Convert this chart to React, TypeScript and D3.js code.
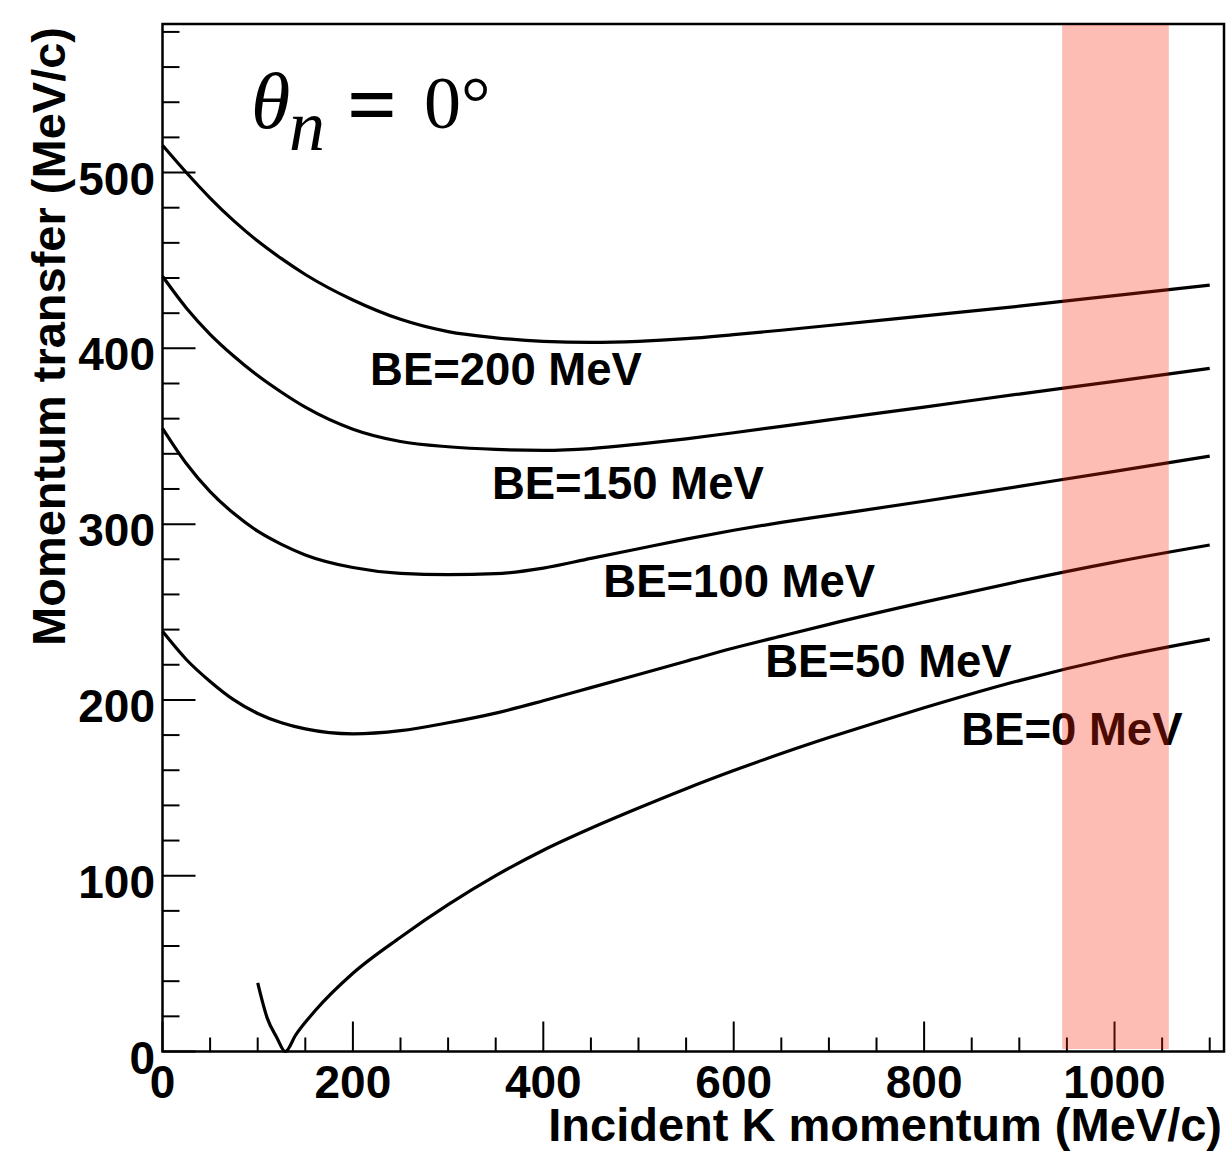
import React from "react";
import * as d3 from "d3";

// ---- data ----
const gridX = [0, 25, 50, 75, 100, 125, 150, 200, 250, 300, 350, 400, 450, 500, 550, 600, 650, 700, 800, 900, 1000, 1100];
const q200 = [515.5, 500, 485.5, 472.5, 461, 451, 442, 427.5, 416.5, 409.5, 406, 404, 403.4, 404, 405.5, 407.8, 410.3, 413, 418.5, 424, 430, 436];
const q150 = [441, 423, 408, 395.5, 384.5, 375, 366.5, 354, 347, 344, 342.5, 342, 343, 345.5, 348.5, 352, 355.6, 359.3, 366.6, 374, 381.2, 388.6];
const q100 = [354.5, 334.5, 318.5, 306, 296, 288.5, 282.5, 275.3, 272, 271.3, 271.8, 275, 280.5, 286, 291.5, 296.5, 301, 305, 313, 321.5, 330, 338.7];
const q50 = [239, 223, 210.5, 200, 192.3, 187, 183.5, 180.7, 182.5, 187, 192.5, 199.5, 207, 214.5, 222, 229.5, 236.3, 243, 255.6, 267.5, 278.4, 288.1];
const x0 = [100, 110, 120, 129, 140, 160, 200, 250, 300, 350, 400, 450, 500, 550, 600, 650, 700, 750, 800, 900, 1000, 1100];
const q0 = [39, 19, 8, 0, 9.5, 23, 44.5, 65, 83.5, 100, 114.5, 127, 138.5, 149.5, 159.8, 169.5, 178.6, 187.2, 195.5, 211, 224, 234.6];

const curveLabels = ["BE=200 MeV", "BE=150 MeV", "BE=100 MeV", "BE=50 MeV", "BE=0 MeV"];
// label anchor points in data coordinates (left, baseline)
const labelX = [218, 346, 463, 633, 839];
const labelY = [379, 314.5, 258.5, 213, 174.5];

const xTicksMajor = [0, 200, 400, 600, 800, 1000];
const yTicksMajor = [0, 100, 200, 300, 400, 500];
const xDomain = [0, 1115];
const yDomain = [0, 584.5];
const band = [945, 1057];

const xTitle = "Incident K momentum (MeV/c)";
const yTitle = "Momentum transfer (MeV/c)";

const FONT = "'Liberation Sans', Arial, Helvetica, sans-serif";
const SERIF = "'Liberation Serif', 'Times New Roman', serif";

export default function App() {
  const W = 1230;
  const H = 1152;
  const x = d3.scaleLinear().domain(xDomain).range([162.5, 1224]);
  const y = d3.scaleLinear().domain(yDomain).range([1051.5, 24]);

  const line = d3
    .line<[number, number]>()
    .x((d) => x(d[0]))
    .y((d) => y(d[1]))
    .curve(d3.curveMonotoneX);

  const series: [number, number][][] = [
    gridX.map((v, i) => [v, q200[i]] as [number, number]),
    gridX.map((v, i) => [v, q150[i]] as [number, number]),
    gridX.map((v, i) => [v, q100[i]] as [number, number]),
    gridX.map((v, i) => [v, q50[i]] as [number, number]),
    x0.map((v, i) => [v, q0[i]] as [number, number]),
  ];

  const xMinor = d3.range(0, 1101, 50).filter((v) => v % 200 !== 0);
  const yMinor = d3.range(0, 581, 20).filter((v) => v % 100 !== 0);

  const x0px = x(0);
  const y0px = y(0);

  return (
    <svg
      width={W}
      height={H}
      style={{ position: "absolute", left: 0, top: 0, display: "block", background: "#fff" }}
    >
      <rect x={0} y={0} width={W} height={H} fill="#fff" />
      {/* curves */}
      {series.map((s, i) => (
        <path key={i} d={line(s) || ""} fill="none" stroke="#000" strokeWidth={3.2} strokeLinejoin="round" />
      ))}
      {/* curve labels */}
      {curveLabels.map((t, i) => (
        <text
          key={t}
          x={x(labelX[i])}
          y={y(labelY[i])}
          fontFamily={FONT}
          fontWeight="bold"
          fontSize={45.5}
          fill="#000"
        >
          {t}
        </text>
      ))}
      {/* ticks */}
      {xTicksMajor.map((v) => (
        <line key={"xM" + v} x1={x(v)} x2={x(v)} y1={y0px} y2={y0px - 30} stroke="#000" strokeWidth={2} />
      ))}
      {xMinor.map((v) => (
        <line key={"xm" + v} x1={x(v)} x2={x(v)} y1={y0px} y2={y0px - 14} stroke="#000" strokeWidth={2} />
      ))}
      {yTicksMajor.map((v) => (
        <line key={"yM" + v} x1={x0px} x2={x0px + 33} y1={y(v)} y2={y(v)} stroke="#000" strokeWidth={2} />
      ))}
      {yMinor.map((v) => (
        <line key={"ym" + v} x1={x0px} x2={x0px + 17} y1={y(v)} y2={y(v)} stroke="#000" strokeWidth={2} />
      ))}
      {/* frame */}
      <rect
        x={x0px}
        y={y(yDomain[1])}
        width={x(xDomain[1]) - x0px}
        height={y0px - y(yDomain[1])}
        fill="none"
        stroke="#000"
        strokeWidth={2.5}
      />
      {/* tick labels */}
      {xTicksMajor.map((v) => (
        <text
          key={"xl" + v}
          x={x(v)}
          y={1098}
          textAnchor="middle"
          fontFamily={FONT}
          fontWeight="bold"
          fontSize={46}
        >
          {v}
        </text>
      ))}
      {yTicksMajor.map((v) => (
        <text
          key={"yl" + v}
          x={155}
          y={y(v) + 22}
          textAnchor="end"
          fontFamily={FONT}
          fontWeight="bold"
          fontSize={46}
        >
          {v}
        </text>
      ))}
      {/* axis titles */}
      <text x={1222} y={1141} textAnchor="end" fontFamily={FONT} fontWeight="bold" fontSize={47}>
        {xTitle}
      </text>
      <text
        transform="translate(65,27) rotate(-90)"
        textAnchor="end"
        fontFamily={FONT}
        fontWeight="bold"
        fontSize={47}
      >
        {yTitle}
      </text>
      {/* theta annotation */}
      <text x={251} y={128} fontFamily={SERIF} fontStyle="italic" fontSize={80}>
        θ
      </text>
      <text x={289} y={150} fontFamily={SERIF} fontStyle="italic" fontSize={72}>
        n
      </text>
      <text x={347} y={135} fontFamily={SERIF} fontSize={88} fontWeight="bold">
        =
      </text>
      <text x={424} y={128} fontFamily={SERIF} fontSize={74}>
        0°
      </text>
      {/* shaded band, drawn on top with transparency */}
      <rect
        x={x(band[0])}
        y={y(yDomain[1]) + 1}
        width={x(band[1]) - x(band[0])}
        height={y0px - y(yDomain[1]) - 3.5}
        fill="rgb(250,35,5)"
        fillOpacity={0.3}
      />
    </svg>
  );
}
